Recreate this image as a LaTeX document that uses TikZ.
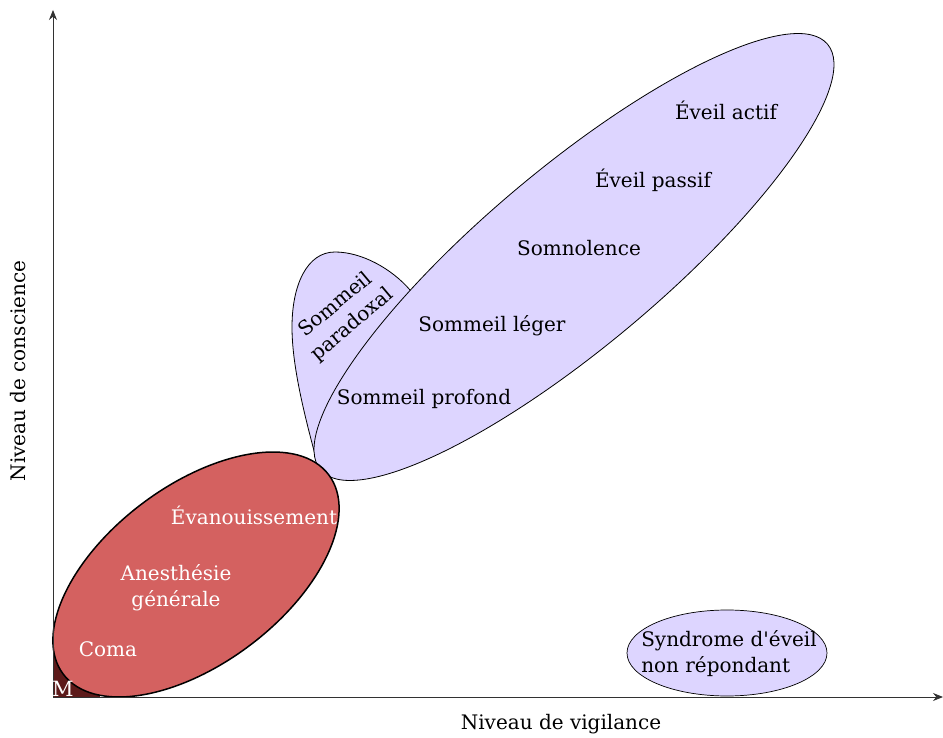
\documentclass[tikz,border=0pt]{standalone}
\usepackage{fontspec}
\setmainfont{DejaVu Serif}[Ligatures=TeXOff]
\usetikzlibrary{arrows.meta}
\definecolor{lav}{RGB}{221,213,255}
\definecolor{redf}{RGB}{212,97,96}
\definecolor{darkm}{RGB}{92,26,26}
\definecolor{axisc}{RGB}{50,50,50}
\begin{document}
\begin{tikzpicture}[x=1pt,y=1pt,
  lbl/.style={font=\fontsize{20}{26}\selectfont, inner sep=0pt, align=center},
  wlbl/.style={lbl, text=white},
  axisline/.style={draw=axisc, line width=0.9pt, -{Stealth[length=10pt,width=8pt]}}]
\useasboundingbox (0,0) rectangle (943,737);
% dark corner
\fill[darkm] (53,40) rectangle (100,96);
% paradoxal lobe
\filldraw[fill=lav, draw=black, line width=0.8pt]
  (317,275) .. controls (305,320) and (292,370) .. (292,410)
  .. controls (292,452) and (307,485) .. (335,485)
  .. controls (362,485) and (392,468) .. (410,447)
  -- (440,420) -- (380,317) -- cycle;
% big ellipse
\filldraw[fill=lav, draw=black, line width=0.8pt] (574,480) ellipse[x radius=331, y radius=89, rotate=40];
% red ellipse
\filldraw[fill=redf, draw=black, line width=1.5pt] (196,162.5) ellipse[x radius=166, y radius=89, rotate=36.9];
% syndrome ellipse
\filldraw[fill=lav, draw=black, line width=0.7pt] (727,84) ellipse[x radius=100, y radius=43];
% axes
\coordinate (O) at (53,40);
\coordinate (Ytop) at (53,727);
\coordinate (Xend) at (943,40);
\draw[axisline] (O) -- (Ytop);
\draw[axisline] (O) -- (Xend);
% labels
\node[lbl] (actif) at (726,627) {Éveil actif};
\node[lbl] (passif) at (653,557) {Éveil passif};
\node[lbl] (somno) at (579,489) {Somnolence};
\node[lbl] (leger) at (492,411) {Sommeil léger};
\node[lbl] (profond) at (424,338) {Sommeil profond};
\node[lbl, rotate=40] (parad) at (344,422) {Sommeil\\paradoxal};
\node[wlbl] (evan) at (254,222) {Évanouissement};
\node[wlbl] (anes) at (176,149) {Anesthésie\\générale};
\node[wlbl] (coma) at (108,88) {Coma};
\node[text=white, inner sep=0pt, anchor=south west, font=\fontsize{21}{24}\selectfont] (m) at (52,40.5) {M};
\node[lbl, align=left] (synd) at (729,83) {Syndrome d'éveil\\non répondant};
\node[lbl] (vig) at (561,13) {Niveau de vigilance};
\node[lbl, rotate=90] (consc) at (18,366) {Niveau de conscience};
\end{tikzpicture}
\end{document}
